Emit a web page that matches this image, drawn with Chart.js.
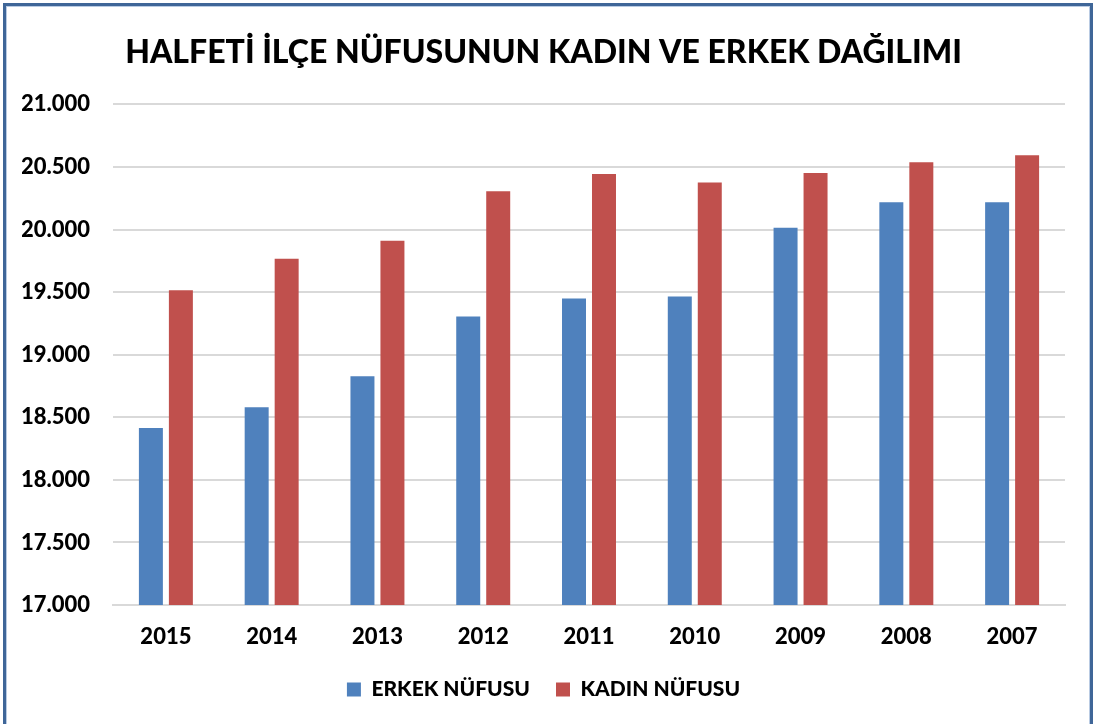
<!DOCTYPE html>
<html>
<head>
<meta charset="utf-8">
<script src="https://cdn.jsdelivr.net/npm/chart.js@4.4.1/dist/chart.umd.min.js"></script>
<style>
  html, body { margin: 0; padding: 0; background: #fff; }
  #wrap { position: relative; width: 1094px; height: 724px; overflow: hidden; }
  #frame {
    position: absolute; left: 3px; top: 3px; width: 1084px; height: 760px;
    border: 3px solid #3f6698; box-shadow: inset 0 0 0 1px #b9cbe3;
  }
  #box { position: absolute; left: 0; top: 0; width: 1094px; height: 724px; }
</style>
</head>
<body>
<div id="wrap">
  <div id="frame"></div>
  <div id="box"><canvas id="nufusChart"></canvas></div>
</div>
<script>
const years = ['2015', '2014', '2013', '2012', '2011', '2010', '2009', '2008', '2007'];
const erkek = [18415, 18580, 18828, 19306, 19450, 19466, 20015, 20218, 20218];
const kadin = [19514, 19767, 19911, 20306, 20444, 20375, 20452, 20538, 20594];

const fontFam = 'Lato, "Liberation Sans", sans-serif';

const chart = new Chart(document.getElementById('nufusChart'), {
  type: 'bar',
  data: {
    labels: years,
    datasets: [
      { label: 'ERKEK NÜFUSU', data: erkek, backgroundColor: '#4f81bd' },
      { label: 'KADIN NÜFUSU', data: kadin, backgroundColor: '#c0504d' }
    ]
  },
  options: {
    responsive: true,
    maintainAspectRatio: false,
    animation: false,
    layout: { padding: { left: 22, right: 29, top: 0, bottom: 14 } },
    datasets: { bar: { categoryPercentage: 0.567, barPercentage: 0.8 } },
    plugins: {
      title: {
        display: true,
        text: 'HALFETİ İLÇE NÜFUSUNUN KADIN VE ERKEK DAĞILIMI',
        color: '#000',
        font: { family: fontFam, size: 32, weight: '900' },
        padding: { top: 33, bottom: 33 }
      },
      legend: {
        position: 'bottom',
        labels: {
          color: '#000',
          font: { family: fontFam, size: 21, weight: '900' },
          boxWidth: 14,
          boxHeight: 14,
          padding: 26
        }
      },
      tooltip: { enabled: false }
    },
    scales: {
      x: {
        afterFit: s => { s.height = 48; },
        grid: { display: false },
        border: { color: '#d9d9d9', width: 2 },
        ticks: { color: '#000', padding: 11, font: { family: fontFam, size: 22, weight: '900' } }
      },
      y: {
        min: 17000,
        max: 21000,
        afterFit: s => { s.width = 91; },
        grid: { color: '#d9d9d9', lineWidth: 2, drawTicks: false },
        border: { display: false },
        ticks: {
          stepSize: 500,
          padding: 23,
          color: '#000',
          font: { family: fontFam, size: 22, weight: '900' },
          callback: v => v.toLocaleString('tr-TR', { minimumFractionDigits: 0 }).replace(',', '.')
        }
      }
    }
  }
});
</script>
</body>
</html>
